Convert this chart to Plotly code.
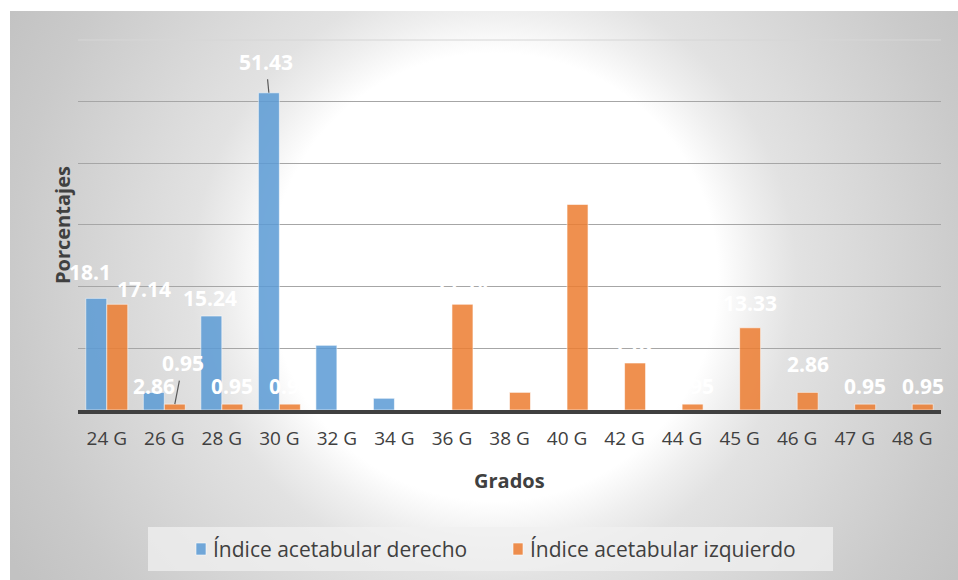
import base64
import plotly.graph_objects as go

# Degree categories on the x axis
grados = ["24 G", "26 G", "28 G", "30 G", "32 G", "34 G", "36 G", "38 G",
          "40 G", "42 G", "44 G", "45 G", "46 G", "47 G", "48 G"]

# Percentages per side (None = no value for that degree)
derecho = [18.1, 2.86, 15.24, 51.43, 10.48, 1.9,
           None, None, None, None, None, None, None, None, None]
izquierdo = [17.14, 0.95, 0.95, 0.95, None, None,
             17.14, 2.86, 33.33, 7.62, 0.95, 13.33, 2.86, 0.95, 0.95]

serie_der = "Índice acetabular derecho"
serie_izq = "Índice acetabular izquierdo"

# Pixel offsets of each value label from the top of its bar (dx, dy up)
off_der = [(-6, 26), (0, 6), (-1, 18), (-3, 31), (0, 18), (0, 18)]
off_izq = [(27, 15), (8, 41), (0, 18), (0, 18), None, None,
           (0, 18), (0, 18), (0, 18), (0, 18), (0, 18), (0, 25), (0, 28), (0, 18), (0, 18)]
leader_der = {3}
leader_izq = {1}

W, H = 958, 580
L, R, T, B = 78, 17, 40, 170
pw, ph = W - L - R, H - T - B

def px_x(v):
    return (v - L) / pw

def px_y(v):
    return (H - B - v) / ph

BLUE = "#5B9BD5"
ORANGE = "#ED7D31"
TXT = "#404040"
FONT = "Open Sans"

fig = go.Figure()
fig.add_trace(go.Bar(x=grados, y=derecho, name=serie_der,
                     marker=dict(color=BLUE, opacity=0.85,
                                 line=dict(color="rgba(255,255,255,0.6)", width=1)),
                     hoverinfo="skip", showlegend=False))
fig.add_trace(go.Bar(x=grados, y=izquierdo, name=serie_izq,
                     marker=dict(color=ORANGE, opacity=0.85,
                                 line=dict(color="rgba(255,255,255,0.6)", width=1)),
                     hoverinfo="skip", showlegend=False))

# Radial grey background behind the whole chart area (948 x 569 px box)
svg = (
    "<svg xmlns='http://www.w3.org/2000/svg' width='948' height='569' "
    "viewBox='0 0 948 569' preserveAspectRatio='none'>"
    "<defs><radialGradient id='g' gradientUnits='userSpaceOnUse' "
    "cx='484' cy='266' r='560'>"
    "<stop offset='0' stop-color='#ffffff'/>"
    "<stop offset='0.40' stop-color='#ffffff'/>"
    "<stop offset='0.47' stop-color='#efefef'/>"
    "<stop offset='0.54' stop-color='#e2e2e2'/>"
    "<stop offset='0.86' stop-color='#cacaca'/>"
    "<stop offset='1' stop-color='#c2c2c2'/>"
    "</radialGradient></defs>"
    "<rect width='948' height='569' fill='url(#g)'/></svg>"
)
src = "data:image/svg+xml;base64," + base64.b64encode(svg.encode()).decode()
fig.add_layout_image(dict(source=src, xref="paper", yref="paper",
                          x=px_x(10), y=px_y(11), sizex=948 / pw, sizey=569 / ph,
                          xanchor="left", yanchor="top", sizing="stretch",
                          layer="below"))

annotations = []
bar_half = 10.5

def add_labels(values, offsets, leaders, side):
    for i, v in enumerate(values):
        if v is None or offsets[i] is None:
            continue
        dx, dy = offsets[i]
        common = dict(x=grados[i], y=v, xref="x", yref="y",
                      text=f"{v:g}",
                      font=dict(family=FONT, size=21, color="white", weight="bold"))
        if i in leaders:
            annotations.append(dict(**common, showarrow=True, arrowhead=0,
                                    arrowwidth=1.2, arrowcolor="#595959",
                                    ax=dx, ay=-dy, xshift=side * bar_half,
                                    standoff=0, startstandoff=2))
        else:
            annotations.append(dict(**common, showarrow=False,
                                    xshift=side * bar_half + dx, yshift=dy,
                                    yanchor="middle"))

add_labels(derecho, off_der, leader_der, -1)
add_labels(izquierdo, off_izq, leader_izq, 1)

# Axis titles
annotations.append(dict(text="Grados", xref="paper", yref="paper",
                        x=0.5, y=px_y(480), showarrow=False, yanchor="middle",
                        font=dict(family=FONT, size=20, color=TXT, weight="bold")))
annotations.append(dict(text="Porcentajes", xref="paper", yref="paper",
                        x=px_x(62), y=0.5, textangle=-90, showarrow=False,
                        xanchor="center", yanchor="middle",
                        font=dict(family=FONT, size=20, color=TXT, weight="bold")))

# Legend: swatch + label for each series
legend_items = [(serie_der, BLUE, 196), (serie_izq, ORANGE, 513)]
shapes = [
    # top gridline
    dict(type="line", xref="paper", yref="paper", x0=0, x1=1, y0=1, y1=1,
         line=dict(color="#d6d6d6", width=1), layer="below"),
    # legend panel
    dict(type="rect", xref="paper", yref="paper",
         x0=px_x(148), x1=px_x(833), y0=px_y(571), y1=px_y(527),
         fillcolor="rgba(240,240,240,0.75)", line=dict(width=0), layer="below"),
]
for name, color, left in legend_items:
    shapes.append(dict(type="rect", xref="paper", yref="paper",
                       x0=px_x(left), x1=px_x(left + 10),
                       y0=px_y(555), y1=px_y(543),
                       fillcolor=color, opacity=0.85,
                       line=dict(color="rgba(255,255,255,0.6)", width=1)))
    annotations.append(dict(text=name, xref="paper", yref="paper",
                            x=px_x(left + 15), y=px_y(549),
                            xanchor="left", yanchor="middle", showarrow=False,
                            font=dict(family=FONT, size=21, color=TXT)))

fig.update_layout(
    width=W, height=H,
    margin=dict(l=L, r=R, t=T, b=B, autoexpand=False),
    paper_bgcolor="white",
    plot_bgcolor="rgba(0,0,0,0)",
    barmode="group",
    bargap=0.27,
    bargroupgap=0,
    showlegend=False,
    annotations=annotations,
    shapes=shapes,
    font=dict(family=FONT, color=TXT),
)

fig.update_xaxes(
    type="category", range=[-0.5, len(grados) - 0.5], automargin=False,
    showline=True, linecolor="#404040", linewidth=3.5,
    ticks="outside", ticklen=8, tickcolor="rgba(0,0,0,0)",
    tickfont=dict(family=FONT, size=19, color=TXT),
    showgrid=False, zeroline=False,
)
fig.update_yaxes(
    range=[0, 59.99], dtick=10, automargin=False,
    showgrid=True, gridcolor="#a6a6a6", gridwidth=1,
    showticklabels=False, zeroline=False, showline=False, ticks="",
)

fig.write_html("out.html")
